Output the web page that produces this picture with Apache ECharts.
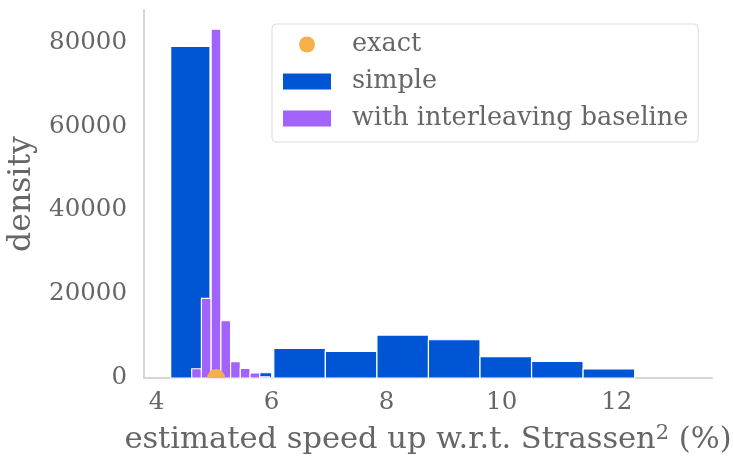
<!DOCTYPE html>
<html>
<head>
<meta charset="utf-8">
<script src="https://cdn.jsdelivr.net/npm/echarts@6/dist/echarts.min.js"></script>
<style>
  html, body { margin: 0; padding: 0; background: #fff; }
  #chart { width: 733px; height: 459px; }
</style>
</head>
<body>
<div id="chart"></div>
<script>
// histogram bins (x in %, density)
const simpleLeft = [4.247, 5.788, 6.039, 6.935, 7.831, 8.727, 9.623, 10.519, 11.415];
const simpleRight = [4.93, 6.003, 6.935, 7.831, 8.727, 9.623, 10.519, 11.415, 12.311];
const simpleDensity = [79000, 1250, 7050, 6330, 10240, 9120, 5070, 3950, 2140];

const interLeft = [4.612, 4.781, 4.950, 5.119, 5.288, 5.457, 5.626, 5.795];
const interRight = [4.781, 4.950, 5.119, 5.288, 5.457, 5.626, 5.795, 5.964];
const interDensity = [2200, 18950, 83100, 13640, 3880, 2290, 1190, 300];

const exactSpeedup = [5.035];

const xTicks = [4, 6, 8, 10, 12];
const yTicks = [0, 20000, 40000, 60000, 80000];

const FONT = 'DejaVu Serif';
const TEXT = '#666666';

const chart = echarts.init(document.getElementById('chart'));

function bins(left, right, vals) {
  return left.map((l, i) => [l, right[i], vals[i]]);
}

// draw one histogram bar from [x0, x1, height]
function renderBar(params, api) {
  const p0 = api.coord([api.value(0), api.value(2)]);
  const p1 = api.coord([api.value(1), 0]);
  return {
    type: 'rect',
    shape: { x: p0[0], y: p0[1], width: p1[0] - p0[0], height: p1[1] - p0[1] },
    style: { fill: api.visual('color'), stroke: '#ffffff', lineWidth: 1.2 }
  };
}

// exact value: dot sitting on the x axis (only upper half is inside the plot)
function renderDot(params, api) {
  const p = api.coord([api.value(0), api.value(1)]);
  return {
    type: 'sector',
    shape: { cx: p[0], cy: p[1], r0: 0, r: 9, startAngle: Math.PI, endAngle: Math.PI * 2, clockwise: true },
    style: { fill: api.visual('color') }
  };
}

const option = {
  backgroundColor: '#ffffff',
  animation: false,
  textStyle: { fontFamily: FONT, color: TEXT },
  grid: { left: 144, right: 21, top: 10, bottom: 81, containLabel: false, outerBoundsMode: 'none' },
  legend: {
    orient: 'vertical',
    left: 272,
    top: 24,
    padding: [7, 10, 10, 11],
    itemWidth: 48,
    itemHeight: 16,
    itemGap: 10,
    borderColor: '#dddddd',
    borderWidth: 1,
    borderRadius: 4,
    textStyle: { fontFamily: FONT, fontSize: 25.5, color: TEXT, lineHeight: 27, padding: [0, 0, 0, 16] },
    data: [
      { name: 'exact', icon: 'circle' },
      { name: 'simple', icon: 'rect' },
      { name: 'with interleaving baseline', icon: 'rect' }
    ]
  },
  xAxis: {
    type: 'value',
    min: 3.783,
    max: 13.655,
    name: 'estimated speed up w.r.t. Strassen{sup|2} (%)',
    nameLocation: 'middle',
    nameGap: 45,
    nameTextStyle: {
      fontFamily: FONT, fontSize: 30.5, color: TEXT,
      rich: { sup: { fontFamily: FONT, fontSize: 21, color: TEXT, verticalAlign: 'top', padding: [0, 0, 13, 0] } }
    },
    axisLine: { show: true, lineStyle: { color: '#d6d6d6', width: 2 } },
    axisTick: { show: false },
    splitLine: { show: false },
    axisLabel: { customValues: xTicks, fontFamily: FONT, fontSize: 24.5, color: TEXT, margin: 12 }
  },
  yAxis: {
    type: 'value',
    min: 0,
    max: 87690,
    name: 'density',
    nameLocation: 'middle',
    nameGap: 100,
    nameTextStyle: { fontFamily: FONT, fontSize: 31.5, color: TEXT },
    axisLine: { show: true, lineStyle: { color: '#d6d6d6', width: 2 } },
    axisTick: { show: false },
    splitLine: { show: false },
    axisLabel: { customValues: yTicks, formatter: v => String(v), fontFamily: FONT, fontSize: 24.5, color: TEXT, margin: 17 }
  },
  series: [
    {
      name: 'simple',
      type: 'custom',
      renderItem: renderBar,
      itemStyle: { color: '#0055d4' },
      encode: { x: [0, 1], y: 2 },
      data: bins(simpleLeft, simpleRight, simpleDensity),
      z: 2
    },
    {
      name: 'with interleaving baseline',
      type: 'custom',
      renderItem: renderBar,
      itemStyle: { color: '#a262fc' },
      encode: { x: [0, 1], y: 2 },
      data: bins(interLeft, interRight, interDensity),
      z: 3
    },
    {
      name: 'exact',
      type: 'custom',
      renderItem: renderDot,
      itemStyle: { color: '#f5b04b' },
      encode: { x: 0, y: 1 },
      data: exactSpeedup.map(v => [v, 0]),
      z: 4
    }
  ]
};

chart.setOption(option);
</script>
</body>
</html>
